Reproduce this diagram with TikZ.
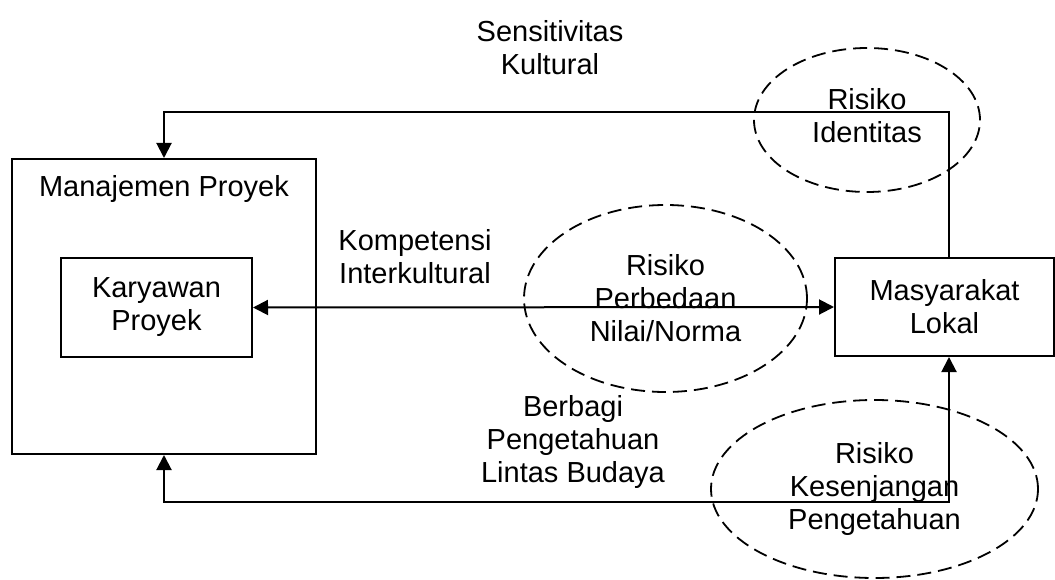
\documentclass[tikz,border=0pt]{standalone}
\usepackage{fontspec}
\setmainfont{Liberation Sans}
\usetikzlibrary{arrows.meta,shapes.geometric}
\begin{document}
\begin{tikzpicture}[x=1pt,y=-1pt,
  >={Triangle[length=15pt,width=15pt]},
  lbl/.style={font=\fontsize{29}{33}\selectfont, align=center, inner sep=0pt},
  box/.style={draw, line width=2pt, inner sep=0pt, font=\fontsize{29}{33}\selectfont, align=center},
  risk/.style={draw, ellipse, dash pattern=on 14pt off 7pt, line width=1.8pt, inner sep=0pt,
               font=\fontsize{29}{33}\selectfont, align=center},
  conn/.style={line width=2pt}
]
\useasboundingbox (0,0) rectangle (1055,580);

% boxes
\node[box, minimum width=304pt, minimum height=295pt] (mp) at (164,306.5) {};
\node[lbl] (mpt) at (164,189) {Manajemen Proyek};
\node[box, minimum width=191pt, minimum height=99pt] (kp) at (156.5,307.5) {Karyawan\\Proyek};
\node[box, minimum width=219pt, minimum height=98pt] (ml) at (944.5,307) {Masyarakat\\Lokal};

% risk ellipses
\node[risk, minimum width=226pt, minimum height=144pt] (ri) at (867,120) {};
\node[lbl] (rit) at (867,116) {Risiko\\Identitas};
\node[risk, minimum width=283pt, minimum height=187pt] (rp) at (665.5,298.5) {Risiko\\Perbedaan\\Nilai/Norma};
\node[risk, minimum width=327pt, minimum height=178pt] (rk) at (874.5,489) {Risiko\\Kesenjangan\\Pengetahuan};

% connector labels
\node[lbl] (sk) at (550,48) {Sensitivitas\\Kultural};
\node[lbl] (ki) at (415,257) {Kompetensi\\Interkultural};
\node[lbl] (bp) at (573,442) {Berbagi\\Pengetahuan\\Lintas Budaya};

% connectors
\coordinate (ta) at (949,112);
\coordinate (tb) at (164,112);
\draw[conn,->] (ml.north -| ta) -- (ta) -- (tb) -- (mp.north);

\coordinate (ba) at (949,502);
\coordinate (bb) at (164,502);
\draw[conn,<->] (mp.south) -- (bb) -- (ba) -- (ml.south -| ba);

\draw[conn,<->] (kp.east) -- (ml.west);
\end{tikzpicture}
\end{document}
